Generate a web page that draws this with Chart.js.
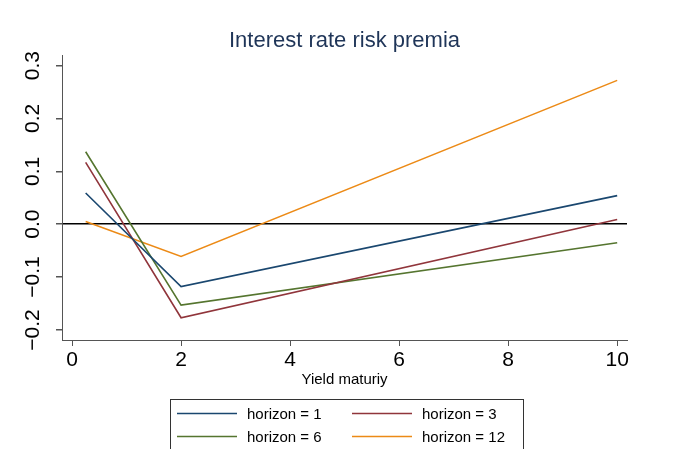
<!DOCTYPE html>
<html>
<head>
<meta charset="utf-8">
<script src="https://cdn.jsdelivr.net/npm/chart.js@4"></script>
<style>
body { margin: 0; background: #fff; }
canvas { display: block; }
</style>
</head>
<body>
<canvas id="chart" width="673" height="449"></canvas>
<script>
// yield maturities (years) and risk premia for each forecast horizon
var maturities = [0.25, 2, 10];
var horizon1 = [0.059, -0.118, 0.054];
var horizon3 = [0.117, -0.177, 0.009];
var horizon6 = [0.137, -0.153, -0.035];
var horizon12 = [0.005, -0.061, 0.272];

var seriesNames = ["horizon = 1", "horizon = 3", "horizon = 6", "horizon = 12"];
var seriesColors = ["#1a476f", "#90353b", "#55752f", "#ec8a16"];

var xTicks = [0, 2, 4, 6, 8, 10];
var yTicks = [-0.2, -0.1, 0.0, 0.1, 0.2, 0.3];

var chartTitle = "Interest rate risk premia";
var fontFamily = "'Liberation Sans', Arial, sans-serif";

function points(values){
    var out = new Array();
    values.forEach(function(v, i){
        out.push({x: maturities[i], y: v});
    });
    return out;
}

function fmt(v){
    return v.toFixed(1).replace("-", "\u2212");
}

// title centred over the plot region, plus a two-column boxed legend
var decorations = {
    id: "decorations",
    afterDraw: function(chart){
        var ctx = chart.ctx;
        var area = chart.chartArea;
        ctx.save();

        ctx.font = "22px " + fontFamily;
        ctx.fillStyle = "#1f3558";
        ctx.textAlign = "center";
        ctx.textBaseline = "alphabetic";
        ctx.fillText(chartTitle, (area.left + area.right) / 2, 46.5);

        var left = 170, top = 399, right = 523;
        ctx.strokeStyle = "#333";
        ctx.lineWidth = 1;
        ctx.strokeRect(left + 0.5, top + 0.5, right - left, 80);
        ctx.font = "15px " + fontFamily;
        ctx.fillStyle = "#000";
        ctx.textAlign = "left";
        ctx.textBaseline = "middle";
        chart.data.datasets.forEach(function(ds, i){
            var col = i % 2, row = Math.floor(i / 2);
            var x0 = col === 0 ? 177 : 352;
            var y = row === 0 ? 413.5 : 436.5;
            ctx.strokeStyle = ds.borderColor;
            ctx.lineWidth = 1.6;
            ctx.beginPath();
            ctx.moveTo(x0, y);
            ctx.lineTo(x0 + 60, y);
            ctx.stroke();
            ctx.fillText(ds.label, x0 + 70, y + 1);
        });
        ctx.restore();
    }
};

window.onload = function(){
    var series = [horizon1, horizon3, horizon6, horizon12];
    var datasets = series.map(function(s, i){
        return {
            label: seriesNames[i],
            data: points(s),
            borderColor: seriesColors[i],
            backgroundColor: seriesColors[i],
            borderWidth: 1.6,
            pointRadius: 0,
            tension: 0,
            fill: false
        };
    });

    var ctx = document.getElementById("chart").getContext("2d");
    new Chart(ctx, {
        type: "line",
        data: { datasets: datasets },
        plugins: [decorations],
        options: {
            responsive: false,
            animation: false,
            devicePixelRatio: 1,
            layout: { padding: { left: 0, right: 46, top: 55, bottom: 60 } },
            plugins: {
                legend: { display: false },
                tooltip: { enabled: false },
                title: { display: false }
            },
            scales: {
                x: {
                    type: "linear",
                    min: -0.184,
                    max: 10.18,
                    afterBuildTicks: function(scale){
                        scale.ticks = xTicks.map(function(v){ return {value: v}; });
                    },
                    afterFit: function(scale){ scale.height = 49; },
                    grid: { drawOnChartArea: false, tickLength: 6, tickColor: "#555", color: "#555" },
                    border: { color: "#555", width: 1 },
                    ticks: {
                        color: "#000",
                        padding: 2,
                        maxRotation: 0,
                        font: { family: fontFamily, size: 21 },
                        callback: function(v){ return String(v); }
                    },
                    title: {
                        display: true,
                        text: "Yield maturiy",
                        color: "#000",
                        font: { family: fontFamily, size: 15 },
                        padding: 0
                    }
                },
                y: {
                    min: -0.219,
                    max: 0.32,
                    afterBuildTicks: function(scale){
                        scale.ticks = yTicks.map(function(v){ return {value: v}; });
                    },
                    afterFit: function(scale){ scale.width = 62; },
                    grid: {
                        tickLength: 6,
                        tickColor: "#555",
                        lineWidth: 1.5,
                        color: function(c){
                            return c.tick && Math.abs(c.tick.value) < 1e-9 ? "#000" : "rgba(0,0,0,0)";
                        }
                    },
                    border: { color: "#555", width: 1 },
                    ticks: {
                        color: "#000",
                        padding: 2,
                        minRotation: 90,
                        maxRotation: 90,
                        crossAlign: "center",
                        font: { family: fontFamily, size: 21 },
                        callback: function(v){ return fmt(v); }
                    }
                }
            }
        }
    });
};
</script>
</body>
</html>
